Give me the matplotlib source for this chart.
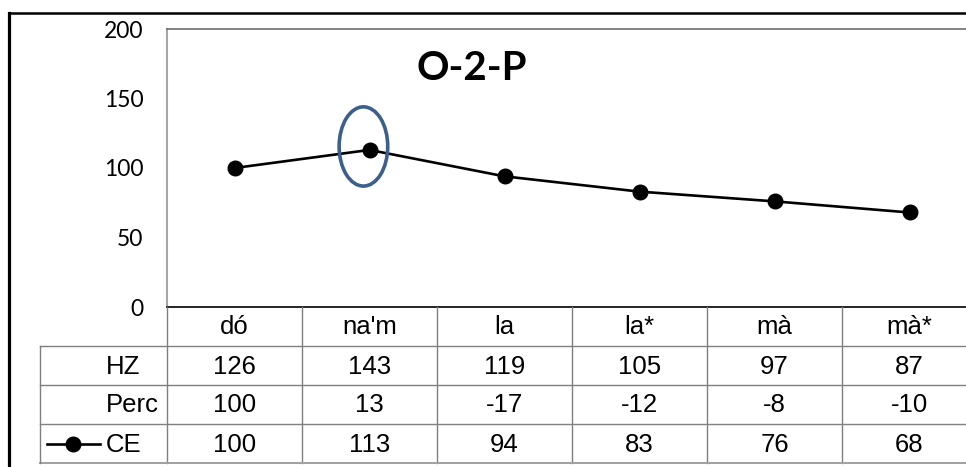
import matplotlib
matplotlib.use("Agg")
import matplotlib.pyplot as plt
import matplotlib.transforms as mtransforms
from matplotlib.patches import Ellipse
from matplotlib.lines import Line2D

categories = ["dó", "na'm", "la", "la*", "mà", "mà*"]
hz = [126, 143, 119, 105, 97, 87]
perc = [100, 13, -17, -12, -8, -10]
ce = [100, 113, 94, 83, 76, 68]
yticks = [0, 50, 100, 150, 200]
title = "O-2-P"

W, H = 966, 467
fig = plt.figure(figsize=(W / 100, H / 100), dpi=100)


def fx(px):
    return px / W


def fy(py):
    return 1 - py / H


# plot area (columns are 135 px wide, the last one runs off the right edge)
col_w = 135
left, top, bottom = 167, 29, 307
ax = fig.add_axes([fx(left), fy(bottom), fx(col_w * 6), (bottom - top) / H])
ax.set_xlim(-0.5, 5.5)
ax.set_ylim(0, 200)
ax.plot(range(len(ce)), ce, color="black", lw=1.9, marker="o",
        markersize=10.5, zorder=3)

ax.set_yticks(yticks)
ax.set_yticklabels([str(t) for t in yticks], family="Lato", fontsize=16.5)
ax.tick_params(axis="y", length=0, pad=17)
ax.set_xticks([])
ax.spines["left"].set_color("#a6a6a6")
ax.spines["left"].set_linewidth(1.5)
ax.spines["top"].set_color("#6e6e6e")
ax.spines["top"].set_linewidth(1.2)
ax.spines["right"].set_visible(False)
ax.spines["bottom"].set_color("black")
ax.spines["bottom"].set_linewidth(1.2)

ax.add_patch(Ellipse((0.955, 115.5), 0.36, 57, fill=False,
                     edgecolor="#3c5f8d", lw=2.6, zorder=4))
fig.text(fx(472), fy(68), title, family="Lato", fontweight="bold",
         fontsize=29, ha="center", va="center")

# data table under the plot
tr = mtransforms.blended_transform_factory(ax.transData, fig.transFigure)
row_h = 39
rows = [("HZ", hz), ("Perc", perc), ("CE", ce)]
grid_c = "#7f7f7f"
fsize = 18.5
tfont = dict(family="Liberation Sans", fontsize=fsize, ha="center", va="center")

x_lab = -0.5 - (left - 40) / col_w
for i in range(7):
    xb = i - 0.5
    fig.add_artist(Line2D([xb, xb], [fy(bottom), fy(bottom + 4 * row_h)],
                          transform=tr, color=grid_c, lw=1.0))
for r in range(1, 5):
    yb = fy(bottom + r * row_h)
    c = "#a0a0a0" if r == 4 else grid_c
    fig.add_artist(Line2D([x_lab, 5.5], [yb, yb], transform=tr, color=c,
                          lw=1.4 if r == 4 else 1.0))
fig.add_artist(Line2D([x_lab, x_lab], [fy(bottom + row_h), fy(bottom + 4 * row_h)],
                      transform=tr, color=grid_c, lw=1.0))

for i, cat in enumerate(categories):
    fig.text(i, fy(bottom + row_h / 2 + 1), cat, transform=tr, **tfont)
for r, (name, vals) in enumerate(rows, start=1):
    yc = fy(bottom + r * row_h + row_h / 2 + 1)
    fig.text(fx(106), yc, name, family="Liberation Sans", fontsize=fsize,
             ha="left", va="center")
    for i, v in enumerate(vals):
        fig.text(i, yc, str(v), transform=tr, **tfont)

# legend key for the CE row
yk = fy(bottom + 3 * row_h + row_h / 2)
fig.add_artist(Line2D([fx(47), fx(100)], [yk, yk], color="black", lw=1.9))
fig.add_artist(Line2D([fx(73)], [yk], color="black", marker="o",
                      markersize=10.5))

# outer chart frame
fig.add_artist(Line2D([fx(8.5), fx(8.5)], [fy(466), fy(12.5)], color="black", lw=2.3))
fig.add_artist(Line2D([fx(8.5), 1], [fy(12.5), fy(12.5)], color="black", lw=1.8))

fig.savefig("out.png", dpi=100)
